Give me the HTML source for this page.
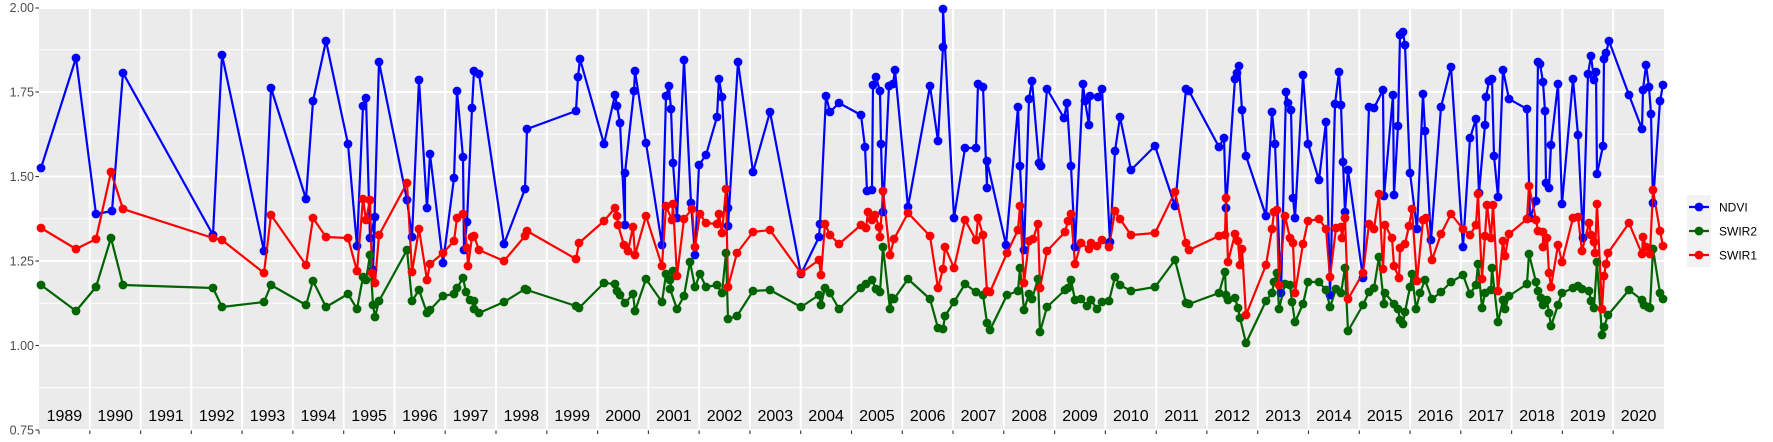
<!DOCTYPE html>
<html><head><meta charset="utf-8"><style>
html,body{margin:0;padding:0;background:#fff;}
svg{display:block;font-family:"Liberation Sans",sans-serif;}
</style></head><body>
<svg width="1773" height="442" viewBox="0 0 1773 442" xmlns="http://www.w3.org/2000/svg">
<defs>
<marker id="mb" markerUnits="userSpaceOnUse" markerWidth="10" markerHeight="10" refX="5" refY="5"><circle cx="5" cy="5" r="4.4" fill="#0000ff"/></marker>
<marker id="mg" markerUnits="userSpaceOnUse" markerWidth="10" markerHeight="10" refX="5" refY="5"><circle cx="5" cy="5" r="4.4" fill="#006400"/></marker>
<marker id="mr" markerUnits="userSpaceOnUse" markerWidth="10" markerHeight="10" refX="5" refY="5"><circle cx="5" cy="5" r="4.4" fill="#ff0000"/></marker>
</defs>
<rect x="39" y="7.5" width="1625" height="423" fill="#ebebeb"/>
<g stroke="#fff" stroke-width="1">
<line x1="39" x2="1664" y1="49.75" y2="49.75"/><line x1="39" x2="1664" y1="134.25" y2="134.25"/><line x1="39" x2="1664" y1="218.75" y2="218.75"/><line x1="39" x2="1664" y1="303.25" y2="303.25"/><line x1="39" x2="1664" y1="387.75" y2="387.75"/>
</g>
<g stroke="#fff" stroke-width="2">
<line x1="39" x2="1664" y1="8" y2="8"/><line x1="39" x2="1664" y1="92" y2="92"/><line x1="39" x2="1664" y1="176.5" y2="176.5"/><line x1="39" x2="1664" y1="261" y2="261"/><line x1="39" x2="1664" y1="345.5" y2="345.5"/><line x1="39" x2="1664" y1="430" y2="430"/>
</g>
<g stroke="#fff" stroke-width="2">
<line x1="89.8" x2="89.8" y1="7.5" y2="430.5"/><line x1="140.6" x2="140.6" y1="7.5" y2="430.5"/><line x1="191.3" x2="191.3" y1="7.5" y2="430.5"/><line x1="242.1" x2="242.1" y1="7.5" y2="430.5"/><line x1="292.9" x2="292.9" y1="7.5" y2="430.5"/><line x1="343.7" x2="343.7" y1="7.5" y2="430.5"/><line x1="394.5" x2="394.5" y1="7.5" y2="430.5"/><line x1="445.2" x2="445.2" y1="7.5" y2="430.5"/><line x1="496" x2="496" y1="7.5" y2="430.5"/><line x1="546.8" x2="546.8" y1="7.5" y2="430.5"/><line x1="597.6" x2="597.6" y1="7.5" y2="430.5"/><line x1="648.4" x2="648.4" y1="7.5" y2="430.5"/><line x1="699.1" x2="699.1" y1="7.5" y2="430.5"/><line x1="749.9" x2="749.9" y1="7.5" y2="430.5"/><line x1="800.7" x2="800.7" y1="7.5" y2="430.5"/><line x1="851.5" x2="851.5" y1="7.5" y2="430.5"/><line x1="902.3" x2="902.3" y1="7.5" y2="430.5"/><line x1="953" x2="953" y1="7.5" y2="430.5"/><line x1="1003.8" x2="1003.8" y1="7.5" y2="430.5"/><line x1="1054.6" x2="1054.6" y1="7.5" y2="430.5"/><line x1="1105.4" x2="1105.4" y1="7.5" y2="430.5"/><line x1="1156.2" x2="1156.2" y1="7.5" y2="430.5"/><line x1="1206.9" x2="1206.9" y1="7.5" y2="430.5"/><line x1="1257.7" x2="1257.7" y1="7.5" y2="430.5"/><line x1="1308.5" x2="1308.5" y1="7.5" y2="430.5"/><line x1="1359.3" x2="1359.3" y1="7.5" y2="430.5"/><line x1="1410.1" x2="1410.1" y1="7.5" y2="430.5"/><line x1="1460.8" x2="1460.8" y1="7.5" y2="430.5"/><line x1="1511.6" x2="1511.6" y1="7.5" y2="430.5"/><line x1="1562.4" x2="1562.4" y1="7.5" y2="430.5"/><line x1="1613.2" x2="1613.2" y1="7.5" y2="430.5"/>
</g>
<g stroke="#333" stroke-width="1.1">
<line x1="39" x2="39" y1="430.5" y2="434"/><line x1="89.8" x2="89.8" y1="430.5" y2="434"/><line x1="140.6" x2="140.6" y1="430.5" y2="434"/><line x1="191.3" x2="191.3" y1="430.5" y2="434"/><line x1="242.1" x2="242.1" y1="430.5" y2="434"/><line x1="292.9" x2="292.9" y1="430.5" y2="434"/><line x1="343.7" x2="343.7" y1="430.5" y2="434"/><line x1="394.5" x2="394.5" y1="430.5" y2="434"/><line x1="445.2" x2="445.2" y1="430.5" y2="434"/><line x1="496" x2="496" y1="430.5" y2="434"/><line x1="546.8" x2="546.8" y1="430.5" y2="434"/><line x1="597.6" x2="597.6" y1="430.5" y2="434"/><line x1="648.4" x2="648.4" y1="430.5" y2="434"/><line x1="699.1" x2="699.1" y1="430.5" y2="434"/><line x1="749.9" x2="749.9" y1="430.5" y2="434"/><line x1="800.7" x2="800.7" y1="430.5" y2="434"/><line x1="851.5" x2="851.5" y1="430.5" y2="434"/><line x1="902.3" x2="902.3" y1="430.5" y2="434"/><line x1="953" x2="953" y1="430.5" y2="434"/><line x1="1003.8" x2="1003.8" y1="430.5" y2="434"/><line x1="1054.6" x2="1054.6" y1="430.5" y2="434"/><line x1="1105.4" x2="1105.4" y1="430.5" y2="434"/><line x1="1156.2" x2="1156.2" y1="430.5" y2="434"/><line x1="1206.9" x2="1206.9" y1="430.5" y2="434"/><line x1="1257.7" x2="1257.7" y1="430.5" y2="434"/><line x1="1308.5" x2="1308.5" y1="430.5" y2="434"/><line x1="1359.3" x2="1359.3" y1="430.5" y2="434"/><line x1="1410.1" x2="1410.1" y1="430.5" y2="434"/><line x1="1460.8" x2="1460.8" y1="430.5" y2="434"/><line x1="1511.6" x2="1511.6" y1="430.5" y2="434"/><line x1="1562.4" x2="1562.4" y1="430.5" y2="434"/><line x1="1613.2" x2="1613.2" y1="430.5" y2="434"/>
<line x1="35.5" x2="39" y1="8" y2="8"/><line x1="35.5" x2="39" y1="92" y2="92"/><line x1="35.5" x2="39" y1="176.5" y2="176.5"/><line x1="35.5" x2="39" y1="261" y2="261"/><line x1="35.5" x2="39" y1="345.5" y2="345.5"/><line x1="35.5" x2="39" y1="430" y2="430"/>
</g>
<g fill="#4d4d4d" font-size="12.5" text-anchor="end">
<text x="34" y="12">2.00</text><text x="34" y="96.5">1.75</text><text x="34" y="181">1.50</text><text x="34" y="265.5">1.25</text><text x="34" y="350">1.00</text><text x="34" y="434.5">0.75</text>
</g>
<g fill="#000" font-size="16" text-anchor="middle">
<text x="64.4" y="421">1989</text><text x="115.2" y="421">1990</text><text x="166" y="421">1991</text><text x="216.7" y="421">1992</text><text x="267.5" y="421">1993</text><text x="318.3" y="421">1994</text><text x="369.1" y="421">1995</text><text x="419.9" y="421">1996</text><text x="470.6" y="421">1997</text><text x="521.4" y="421">1998</text><text x="572.2" y="421">1999</text><text x="623" y="421">2000</text><text x="673.8" y="421">2001</text><text x="724.5" y="421">2002</text><text x="775.3" y="421">2003</text><text x="826.1" y="421">2004</text><text x="876.9" y="421">2005</text><text x="927.7" y="421">2006</text><text x="978.4" y="421">2007</text><text x="1029.2" y="421">2008</text><text x="1080" y="421">2009</text><text x="1130.8" y="421">2010</text><text x="1181.6" y="421">2011</text><text x="1232.3" y="421">2012</text><text x="1283.1" y="421">2013</text><text x="1333.9" y="421">2014</text><text x="1384.7" y="421">2015</text><text x="1435.5" y="421">2016</text><text x="1486.2" y="421">2017</text><text x="1537" y="421">2018</text><text x="1587.8" y="421">2019</text><text x="1638.6" y="421">2020</text>
</g>
<g fill="none" stroke-width="2.2" stroke-linejoin="round">
<polyline id="pb" stroke="#0000ff" points="41,168 76,58 96,214 112,211 123,73 213,235 222,55 264,251 271,88 306,199 313,101 326,41 348,144 357,246 363,106 366,98 370,238 375,217 373,270 379,62 407,200 412,237 419,80 427,208 430,154 443,263 454,178 457,91 463,157 464,250 467,222 472,108 474,71 479,74 504,244 525,189 527,129 576,111 578,77 580,59 604,144 615,95 617,106 620,123 625,225 625,173 634,91 635,71 646,143 662,245 666,96 669,86 671,109 673,163 677,218 684,60 691,203 695,255 699,165 706,155 717,117 719,79 722,97 728,208 728,226 738,62 753,172 770,112 801,274 819,237 820,224 826,96 830,112 839,103 861,115 865,147 867,191 872,190 873,85 876,77 880,91 881,144 883,212 889,86 893,84 895,70 908,207 930,86 938,141 943,47 943,9 954,218 965,148 976,148 978,84 983,87 987,188 987,161 1006,245 1018,107 1020,166 1024,250 1029,99 1032,81 1039,163 1041,166 1047,89 1064,118 1067,103 1071,166 1075,247 1083,84 1085,101 1089,125 1090,96 1098,97 1102,89 1110,242 1115,151 1120,117 1131,170 1155,146 1175,206 1186,89 1189,91 1219,147 1224,138 1226,208 1235,79 1237,73 1239,66 1242,110 1246,156 1266,216 1272,112 1275,144 1281,293 1286,92 1288,103 1291,110 1293,198 1295,218 1303,75 1308,144 1319,180 1326,122 1330,295 1335,104 1339,72 1341,105 1343,162 1345,212 1348,170 1363,278 1369,107 1374,108 1383,90 1384,196 1393,95 1394,195 1398,126 1400,35 1403,32 1405,45 1410,173 1417,229 1423,94 1425,131 1431,240 1441,107 1451,67 1463,247 1470,138 1476,119 1479,193 1485,125 1486,97 1489,81 1492,79 1494,156 1498,197 1503,70 1509,99 1527,109 1530,218 1536,201 1538,62 1540,64 1543,82 1545,111 1546,183 1549,188 1551,145 1558,84 1562,204 1573,79 1578,135 1583,238 1588,74 1591,56 1594,80 1596,72 1597,174 1603,146 1604,59 1606,53 1609,41 1629,95 1642,129 1643,90 1646,65 1649,87 1651,114 1653,203 1660,101 1663,85"/>
<polyline id="pg" stroke="#006400" points="41,285 76,311 96,287 111,238 123,285 213,288 222,307 264,302 271,285 306,305 313,281 326,307 348,294 357,309 363,277 366,280 370,255 373,305 375,317 379,301 407,250 412,301 419,290 427,313 430,310 443,296 454,294 457,288 463,278 466,292 470,300 474,301 474,309 479,313 504,302 525,289 527,290 576,306 579,308 604,283 615,284 617,291 620,295 625,303 633,294 635,311 646,279 662,302 666,274 670,280 673,271 670,289 677,309 684,296 690,262 695,287 700,274 706,287 717,285 722,293 726,253 728,319 737,316 753,291 770,290 801,307 819,295 821,305 825,288 830,293 839,309 861,288 866,284 872,280 876,289 880,292 883,247 890,309 892,298 894,299 908,279 930,299 938,328 943,329 945,316 954,302 965,284 976,292 983,295 987,323 990,330 1007,295 1018,291 1020,268 1024,310 1029,294 1032,299 1038,279 1040,332 1047,307 1065,290 1068,288 1071,280 1075,300 1081,299 1087,306 1091,300 1097,309 1102,302 1109,301 1115,277 1120,285 1131,291 1155,287 1175,260 1186,303 1189,304 1219,293 1225,272 1226,295 1228,300 1235,298 1238,308 1240,318 1246,343 1266,301 1272,293 1274,282 1277,273 1279,309 1285,284 1290,285 1292,302 1295,322 1303,304 1308,282 1319,282 1326,290 1330,307 1336,289 1341,293 1345,268 1348,331 1363,305 1369,292 1374,288 1379,257 1384,304 1385,293 1394,304 1398,309 1400,320 1403,324 1405,312 1410,287 1412,274 1416,309 1420,293 1425,280 1432,299 1441,292 1451,282 1463,275 1470,294 1476,285 1478,264 1482,308 1485,293 1491,290 1492,268 1498,322 1503,300 1505,309 1509,296 1527,284 1529,254 1536,282 1538,291 1541,298 1543,305 1547,300 1549,313 1551,326 1558,305 1562,293 1573,288 1578,286 1582,289 1589,291 1591,301 1594,308 1597,262 1602,335 1604,327 1608,315 1629,290 1642,300 1644,305 1648,307 1650,308 1653,249 1660,293 1663,299"/>
<polyline id="pr" stroke="#ff0000" points="41,228 76,249 96,239 111,172 123,209 213,238 222,240 264,273 271,215 306,265 313,218 326,237 348,238 357,271 363,199 366,220 370,200 372,273 375,283 379,235 407,183 412,272 419,229 427,280 430,264 443,253 454,241 457,218 463,214 467,248 468,266 472,237 474,236 479,250 504,261 525,236 527,231 576,259 579,243 604,221 615,208 617,216 618,225 624,245 628,251 633,227 635,255 646,216 662,266 666,206 672,220 673,204 677,276 684,219 692,209 695,247 700,214 706,223 717,224 719,214 722,233 726,189 728,287 737,253 753,232 770,230 801,273 819,260 821,275 825,224 830,235 839,244 861,225 866,228 868,212 872,220 875,215 879,227 880,237 883,191 890,255 894,239 908,213 930,236 938,288 943,269 945,247 954,268 965,220 976,240 978,218 983,235 987,291 990,292 1007,253 1018,230 1020,206 1024,283 1029,241 1033,239 1038,224 1040,288 1047,251 1065,232 1068,221 1071,214 1075,264 1081,243 1089,249 1091,243 1097,246 1102,240 1109,247 1115,211 1120,219 1131,235 1155,233 1175,192 1186,243 1189,250 1219,236 1225,235 1226,198 1228,262 1235,234 1238,241 1240,265 1242,249 1246,315 1266,265 1272,229 1274,212 1277,210 1279,285 1285,216 1290,238 1293,243 1295,293 1303,244 1308,221 1319,219 1326,229 1330,277 1336,228 1341,227 1342,238 1345,218 1348,299 1363,273 1369,224 1374,229 1379,194 1383,269 1385,225 1392,238 1394,266 1399,278 1400,248 1405,244 1409,226 1412,209 1417,281 1423,220 1426,218 1432,260 1441,234 1451,214 1463,229 1470,235 1476,225 1478,194 1482,279 1485,236 1487,205 1491,238 1493,205 1498,291 1503,241 1505,256 1509,234 1527,219 1529,186 1536,220 1538,231 1543,232 1543,247 1547,238 1549,273 1551,287 1558,245 1562,262 1573,218 1578,217 1582,251 1589,223 1591,235 1594,242 1595,253 1597,204 1602,309 1604,276 1606,264 1608,253 1629,223 1642,254 1643,237 1646,247 1650,254 1653,190 1660,231 1663,246"/>
</g>
<use href="#pb" fill="none" stroke="none" marker-start="url(#mb)" marker-mid="url(#mb)" marker-end="url(#mb)"/>
<use href="#pg" fill="none" stroke="none" marker-start="url(#mg)" marker-mid="url(#mg)" marker-end="url(#mg)"/>
<use href="#pr" fill="none" stroke="none" marker-start="url(#mr)" marker-mid="url(#mr)" marker-end="url(#mr)"/>
<rect x="1687" y="195" width="24" height="72" fill="#f2f2f2"/>
<line x1="1689" x2="1709" y1="207" y2="207" stroke="#0000ff" stroke-width="2.2"/><circle cx="1699" cy="207" r="4.4" fill="#0000ff"/>
<line x1="1689" x2="1709" y1="231" y2="231" stroke="#006400" stroke-width="2.2"/><circle cx="1699" cy="231" r="4.4" fill="#006400"/>
<line x1="1689" x2="1709" y1="255" y2="255" stroke="#ff0000" stroke-width="2.2"/><circle cx="1699" cy="255" r="4.4" fill="#ff0000"/>
<g font-size="12" fill="#000"><text x="1719" y="211.5">NDVI</text><text x="1719" y="235.5">SWIR2</text><text x="1719" y="259.5">SWIR1</text></g>
</svg>
</body></html>
